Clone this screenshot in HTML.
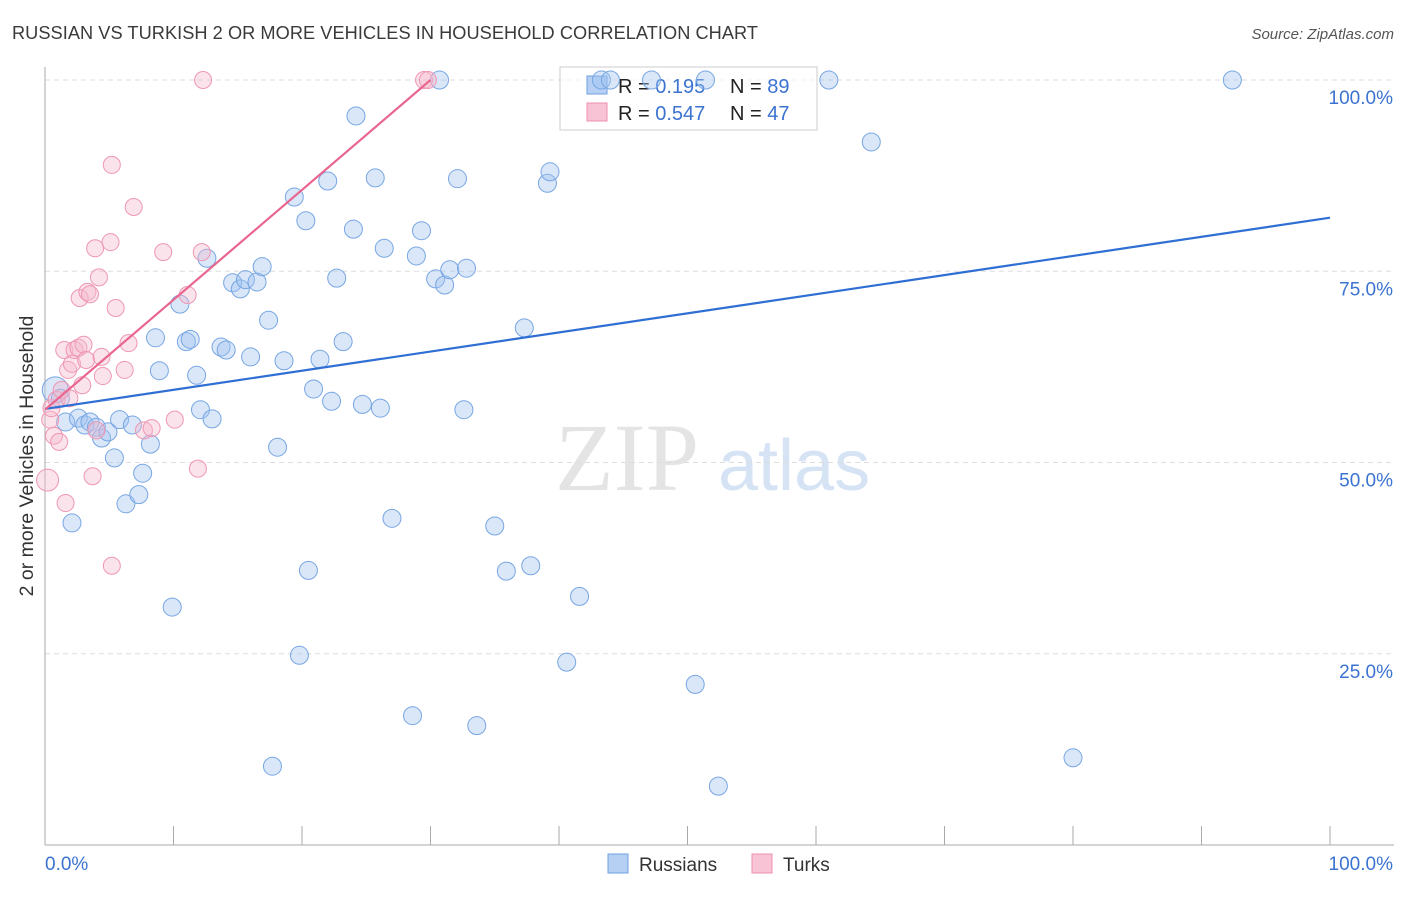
<!DOCTYPE html>
<html><head><meta charset="utf-8">
<style>
body{margin:0;background:#fff;font-family:"Liberation Sans",sans-serif;}
#wrap{position:relative;width:1406px;height:892px;}
</style></head>
<body>
<div id="wrap">
<svg id="svg" width="1406" height="892" xmlns="http://www.w3.org/2000/svg">
<text x="12" y="39" font-size="18.2" fill="#3a3a3a" textLength="746">RUSSIAN VS TURKISH 2 OR MORE VEHICLES IN HOUSEHOLD CORRELATION CHART</text>
<text x="1394" y="39" font-size="15" fill="#555" font-style="italic" text-anchor="end">Source: ZipAtlas.com</text>
<text transform="translate(33,456) rotate(-90)" font-size="19.5" fill="#333" text-anchor="middle">2 or more Vehicles in Household</text>
<g>
<text x="555" y="490" font-size="96" fill="#e4e4e4" font-family="Liberation Serif,serif">ZIP</text>
<text x="718" y="490" font-size="72" fill="#d5e3f5">atlas</text>
</g>
<g id="grid"></g>
<g>
<rect x="560" y="67" width="257" height="63" fill="rgba(255,255,255,0.6)" stroke="#ccc"/>
<rect x="587" y="76" width="20" height="18" fill="#b5d0f3" stroke="#6f9fe0"/>
<rect x="587" y="103" width="20" height="18" fill="#f8c3d4" stroke="#ee8fae"/>
<text x="618" y="93" font-size="20" fill="#222">R = <tspan fill="#3b73d1">0.195</tspan></text>
<text x="730" y="93" font-size="20" fill="#222">N = <tspan fill="#3b73d1">89</tspan></text>
<text x="618" y="120" font-size="20" fill="#222">R = <tspan fill="#3b73d1">0.547</tspan></text>
<text x="730" y="120" font-size="20" fill="#222">N = <tspan fill="#3b73d1">47</tspan></text>
</g>
<g id="marks"></g>
<g>
<rect x="608" y="854" width="20" height="19" fill="#b5d0f3" stroke="#6f9fe0"/>
<text x="639" y="871" font-size="19" fill="#333">Russians</text>
<rect x="752" y="854" width="20" height="19" fill="#f8c3d4" stroke="#ee8fae"/>
<text x="783" y="871" font-size="19" fill="#333">Turks</text>
</g>
</svg>
</div>
<script>
const rusX=[0.8,1.2,1.6,2.1,2.6,3.1,3.5,4.0,4.4,4.9,5.4,5.8,6.3,6.8,7.3,7.6,8.2,8.6,8.9,9.9,10.5,11.0,11.3,11.8,12.1,12.6,13.0,13.7,14.1,14.6,15.2,15.6,16.0,16.5,16.9,17.4,17.7,18.1,18.6,19.4,19.8,20.3,20.5,20.9,21.4,22.0,22.3,22.7,23.2,24.0,24.2,24.7,25.7,26.1,26.4,27.0,28.6,28.9,29.3,30.4,30.7,31.1,31.5,32.1,32.6,32.8,33.6,35.0,35.9,37.3,37.8,39.1,39.3,40.6,41.6,43.3,44.0,47.2,50.6,51.4,52.4,61.0,64.3,80.0,92.4];
const rusY=[59.5,58.4,55.3,42.1,55.8,54.9,55.3,54.6,53.2,54.0,50.6,55.6,44.6,54.9,45.8,48.6,52.4,66.3,62.0,31.1,70.7,65.8,66.1,61.4,56.9,76.7,55.7,65.1,64.7,73.5,72.7,73.9,63.8,73.6,75.6,68.6,10.3,52.0,63.3,84.7,24.8,81.6,35.9,59.6,63.5,86.8,58.0,74.1,65.8,80.5,95.3,57.6,87.2,57.1,78.0,42.7,16.9,77.0,80.3,74.0,100,73.2,75.2,87.1,56.9,75.4,15.6,41.7,35.8,67.6,36.5,86.5,88.0,23.9,32.5,100,100,100,21.0,100,7.7,100,91.9,11.4,100];
const turX=[0.2,0.4,0.5,0.7,0.9,1.1,1.3,1.5,1.6,1.8,1.9,2.1,2.3,2.6,2.7,2.9,3.0,3.2,3.3,3.5,3.7,3.9,4.0,4.2,4.4,4.5,5.1,5.2,5.2,5.5,6.2,6.5,6.9,7.7,8.3,9.2,10.1,11.1,11.9,12.2,12.3,29.5,29.8];
const turY=[47.7,55.6,57.1,53.5,58.2,52.7,59.5,64.7,44.7,62.1,58.4,62.9,64.7,65.0,71.5,60.1,65.4,63.4,72.3,72.0,48.2,78.0,54.2,74.2,63.8,61.3,78.8,88.9,36.5,70.2,62.1,65.6,83.4,54.2,54.5,77.5,55.6,71.9,49.2,77.5,100,100,100];
const rusTrend=[57.0,82.0];
const turTrend=[56.9,100,30.0];
const yTicks=[25,50,75,100];
const yTickLabels=["25.0%","50.0%","75.0%","100.0%"];
const xTicks=[0,10,20,30,40,50,60,70,80,90,100];

const X0=45,X1=1330,Y0=845,Y1=80;
const sx=v=>X0+(X1-X0)*v/100;
const sy=v=>Y0-(Y0-Y1)*v/100;
const NS="http://www.w3.org/2000/svg";
function mk(tag,attrs,parent){const e=document.createElementNS(NS,tag);for(const k in attrs)e.setAttribute(k,attrs[k]);parent.appendChild(e);return e;}
const grid=document.getElementById('grid'),marks=document.getElementById('marks');

yTicks.forEach((t,i)=>{
  let l=mk('line',{x1:X0,x2:1394,y1:sy(t),y2:sy(t),stroke:'#ddd','stroke-dasharray':'5,4'},grid);
  
  
  let tx=mk('text',{x:1393,y:sy(t)+24,'font-size':19,fill:'#3b73d1','text-anchor':'end'},grid);
  tx.textContent=yTickLabels[i];
  
  
});
let ya=mk('line',{x1:X0,x2:X0,y1:67,y2:Y0,stroke:'#aaa'},grid);


let xa=mk('line',{x1:X0,x2:1394,y1:Y0,y2:Y0,stroke:'#aaa'},grid);


xTicks.forEach(t=>{
  let l=mk('line',{x1:sx(t),x2:sx(t),y1:826,y2:Y0,stroke:'#aaa'},grid);
  
  
});
let xl0=mk('text',{x:45,y:870,'font-size':19,fill:'#3b73d1'},grid);xl0.textContent='0.0%';


let xl1=mk('text',{x:1393,y:870,'font-size':19,fill:'#3b73d1','text-anchor':'end'},grid);xl1.textContent='100.0%';



rusX.forEach((x,i)=>{
  let c=mk('circle',{cx:sx(x),cy:sy(rusY[i]),r:i==0?13:9,fill:'rgba(160,195,240,0.4)',stroke:'#78a6e3','stroke-width':1},marks);
  
  
});
turX.forEach((x,i)=>{
  let c=mk('circle',{cx:sx(x),cy:sy(turY[i]),r:i==0?11:8.5,fill:'rgba(246,185,205,0.4)',stroke:'#ef97b3','stroke-width':1},marks);
  
  
});
let rl=mk('line',{x1:sx(0),y1:sy(rusTrend[0]),x2:sx(100),y2:sy(rusTrend[1]),stroke:'#2f6fd4','stroke-width':2.2},marks);


let tl=mk('line',{x1:sx(0),y1:sy(turTrend[0]),x2:sx(turTrend[2]),y2:sy(turTrend[1]),stroke:'#e8668f','stroke-width':2.2},marks);


</script>
</body></html>
